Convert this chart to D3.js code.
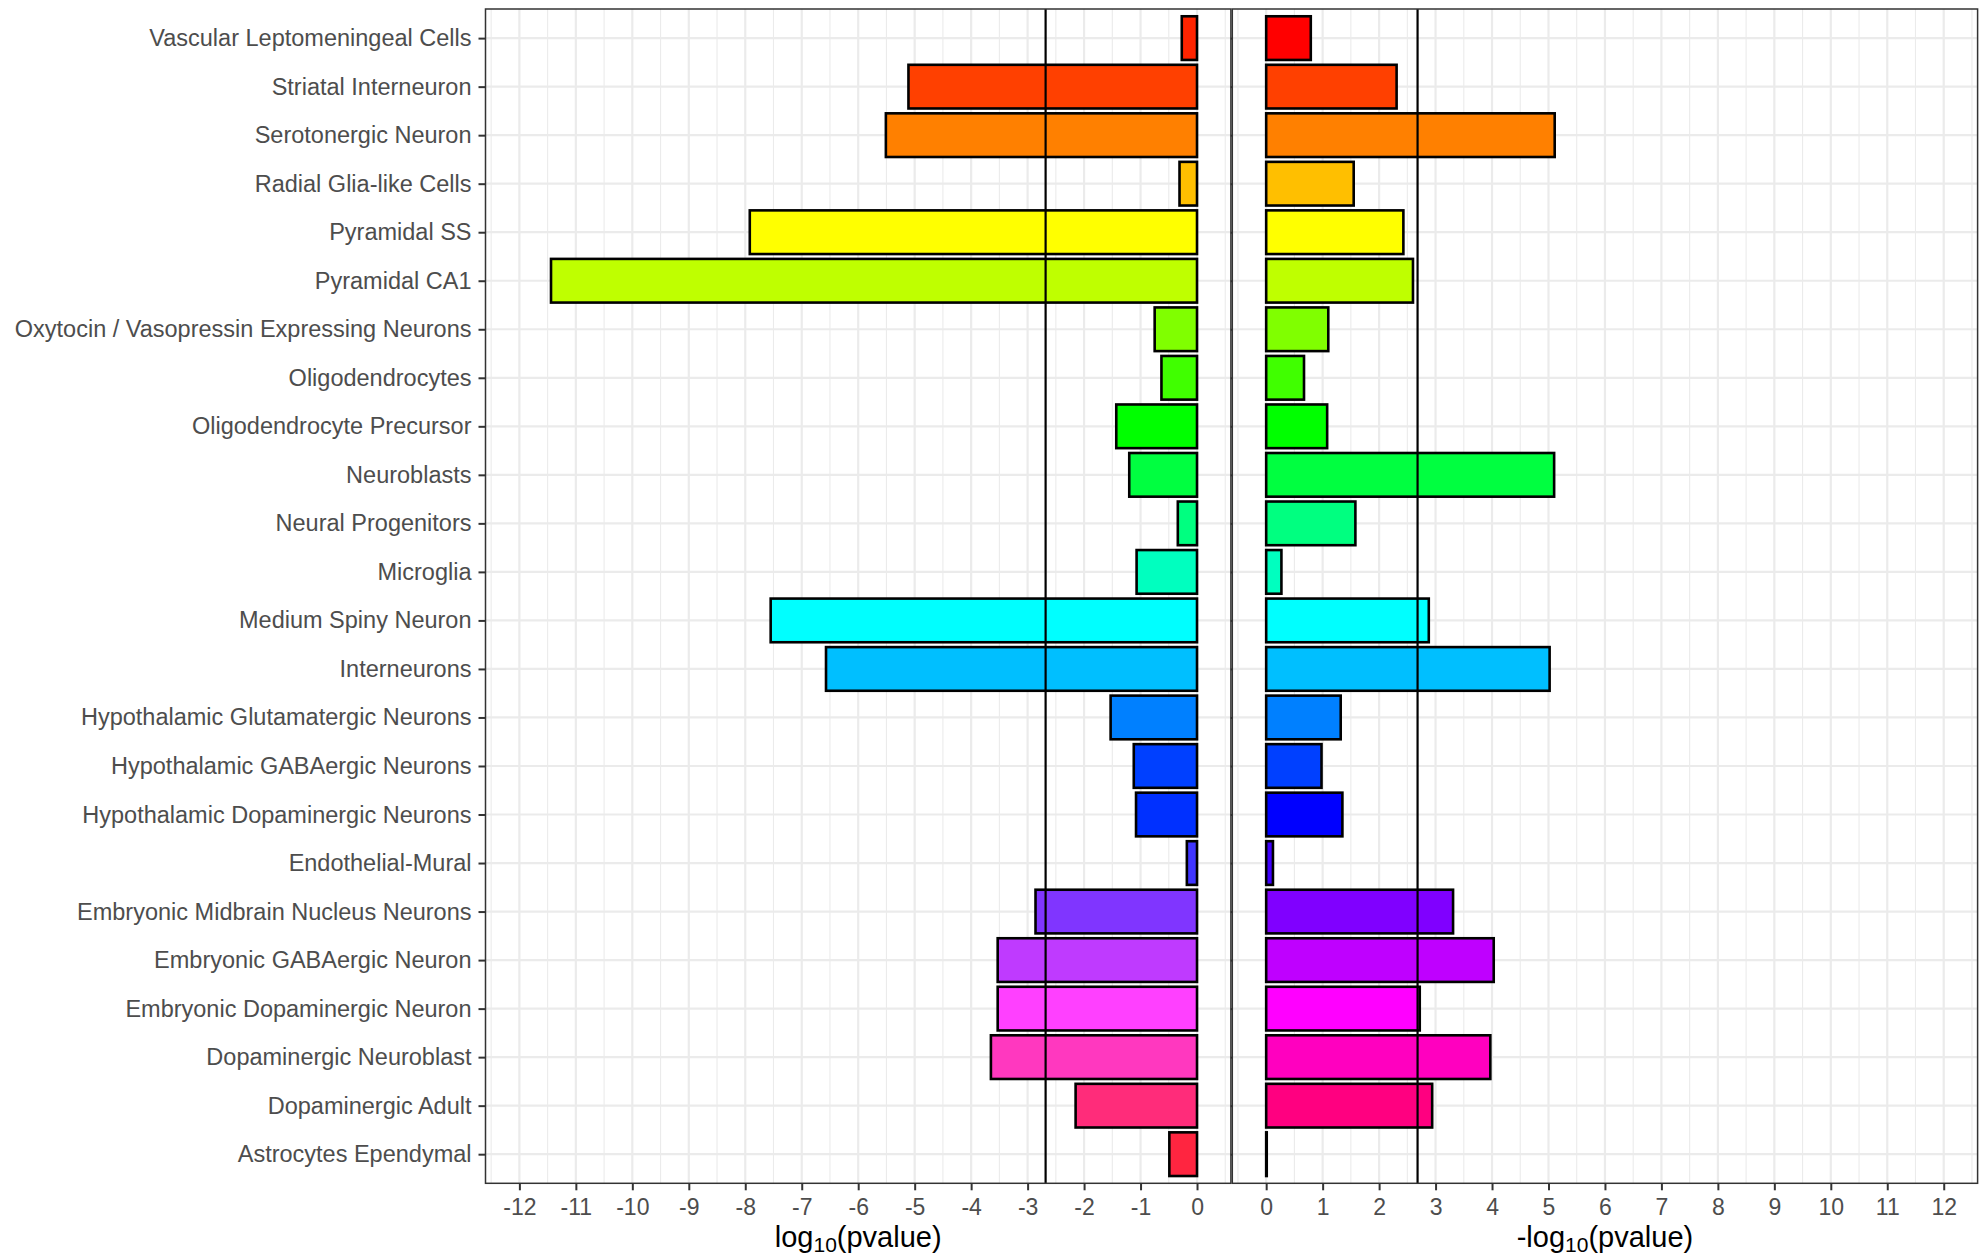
<!DOCTYPE html>
<html>
<head>
<meta charset="utf-8">
<script src="https://cdn.jsdelivr.net/npm/d3@7"></script>
<style>
  html, body { margin: 0; padding: 0; background: #ffffff; }
  svg { display: block; }
  text { font-family: "Liberation Sans", Arial, Helvetica, sans-serif; }
</style>
</head>
<body>
<svg id="chart" width="1979" height="1256"></svg>
<script>
// ---------------- data ----------------
const categories = [
  "Vascular Leptomeningeal Cells",
  "Striatal Interneuron",
  "Serotonergic Neuron",
  "Radial Glia-like Cells",
  "Pyramidal SS",
  "Pyramidal CA1",
  "Oxytocin / Vasopressin Expressing Neurons",
  "Oligodendrocytes",
  "Oligodendrocyte Precursor",
  "Neuroblasts",
  "Neural Progenitors",
  "Microglia",
  "Medium Spiny Neuron",
  "Interneurons",
  "Hypothalamic Glutamatergic Neurons",
  "Hypothalamic GABAergic Neurons",
  "Hypothalamic Dopaminergic Neurons",
  "Endothelial-Mural",
  "Embryonic Midbrain Nucleus Neurons",
  "Embryonic GABAergic Neuron",
  "Embryonic Dopaminergic Neuron",
  "Dopaminergic Neuroblast",
  "Dopaminergic Adult",
  "Astrocytes Ependymal"
];

// log10(pvalue), left panel
const leftValues = [
  -0.27, -5.11, -5.51, -0.31, -7.92, -11.44, -0.75, -0.63, -1.43, -1.20, -0.34, -1.07,
  -7.55, -6.57, -1.53, -1.12, -1.08, -0.18, -2.86, -3.53, -3.53, -3.65, -2.15, -0.49
];

// -log10(pvalue), right panel
const rightValues = [
  0.79, 2.31, 5.11, 1.55, 2.43, 2.60, 1.10, 0.67, 1.08, 5.10, 1.58, 0.27,
  2.88, 5.02, 1.32, 0.98, 1.35, 0.12, 3.31, 4.03, 2.72, 3.97, 2.94, 0.01
];

const leftColors = [
  "#FF2400", "#FF4000", "#FF8000", "#FFBF00", "#FFFF00", "#BFFF00", "#80FF00", "#40FF00",
  "#00FF00", "#00FF40", "#00FF80", "#00FFBF", "#00FFFF", "#00BFFF", "#0080FF", "#0040FF",
  "#0030FF", "#4035FF", "#8035FF", "#BF3AFF", "#FF40FF", "#FF38BF", "#FF2C7A", "#FF2540"
];

const rightColors = [
  "#FF0000", "#FF4000", "#FF8000", "#FFBF00", "#FFFF00", "#BFFF00", "#80FF00", "#40FF00",
  "#00FF00", "#00FF40", "#00FF80", "#00FFBF", "#00FFFF", "#00BFFF", "#0080FF", "#0040FF",
  "#0000FF", "#4000FF", "#8000FF", "#BF00FF", "#FF00FF", "#FF00BF", "#FF0080", "#FF0040"
];

const leftTicks = [-12, -11, -10, -9, -8, -7, -6, -5, -4, -3, -2, -1, 0];
const rightTicks = [0, 1, 2, 3, 4, 5, 6, 7, 8, 9, 10, 11, 12];
const threshold = -Math.log10(0.05 / 24);   // Bonferroni line, ~2.68

// ---------------- layout ----------------
const svg = d3.select("#chart");
const yTop = 9, yBottom = 1183.3;
const leftPanel = { x0: 485.5, x1: 1230.9 };
const rightPanel = { x0: 1232.3, x1: 1977.6 };

const y = d3.scalePoint().domain(categories).range([yTop, yBottom]).padding(0.6);
const bandH = y.step() * 0.9;

const xL = d3.scaleLinear().domain([-12.6, 0.6]).range([leftPanel.x0, leftPanel.x1]);
const xR = d3.scaleLinear().domain([-0.6, 12.6]).range([rightPanel.x0, rightPanel.x1]);

function unitSteps(a, b) {
  const out = [];
  for (let v = a; v <= b + 1e-9; v += 1) out.push(v);
  return out;
}

function drawPanel(x, panel, values, colors, ticks, thr, minorRange, titlePrefix) {
  const g = svg.append("g");
  g.append("rect").attr("x", panel.x0).attr("y", yTop)
    .attr("width", panel.x1 - panel.x0).attr("height", yBottom - yTop).attr("fill", "#ffffff");
  g.selectAll(".minor").data(unitSteps(minorRange[0], minorRange[1])).enter().append("line")
    .attr("x1", d => x(d)).attr("x2", d => x(d)).attr("y1", yTop).attr("y2", yBottom)
    .attr("stroke", "#EBEBEB").attr("stroke-width", 1.1);
  g.selectAll(".majorv").data(ticks).enter().append("line")
    .attr("x1", d => x(d)).attr("x2", d => x(d)).attr("y1", yTop).attr("y2", yBottom)
    .attr("stroke", "#EBEBEB").attr("stroke-width", 2.2);
  g.selectAll(".majorh").data(categories).enter().append("line")
    .attr("x1", panel.x0).attr("x2", panel.x1).attr("y1", d => y(d)).attr("y2", d => y(d))
    .attr("stroke", "#EBEBEB").attr("stroke-width", 2.2);
  g.selectAll(".bar").data(categories).enter().append("rect")
    .attr("x", (d, i) => Math.min(x(0), x(values[i])))
    .attr("width", (d, i) => Math.abs(x(values[i]) - x(0)))
    .attr("y", d => y(d) - bandH / 2)
    .attr("height", bandH)
    .attr("fill", (d, i) => colors[i])
    .attr("stroke", "#000000").attr("stroke-width", 2.6);
  g.append("line").attr("x1", x(thr)).attr("x2", x(thr)).attr("y1", yTop).attr("y2", yBottom)
    .attr("stroke", "#000000").attr("stroke-width", 2.2);
  g.append("rect").attr("x", panel.x0).attr("y", yTop)
    .attr("width", panel.x1 - panel.x0).attr("height", yBottom - yTop)
    .attr("fill", "none").attr("stroke", "#333333").attr("stroke-width", 1.5);
  const ax = d3.axisBottom(x).tickValues(ticks).tickSize(7).tickPadding(8).tickFormat(d3.format("d"));
  const axG = svg.append("g").attr("transform", `translate(0,${yBottom})`).call(ax);
  axG.select(".domain").remove();
  axG.selectAll(".tick line").attr("stroke", "#333333").attr("stroke-width", 2);
  axG.selectAll(".tick text").attr("fill", "#4D4D4D").attr("font-size", 23)
    .text(d => d < 0 ? "-" + Math.abs(d) : d);
  const cx = (panel.x0 + panel.x1) / 2;
  const t = svg.append("text").attr("x", cx).attr("y", 1246.5)
    .attr("text-anchor", "middle").attr("font-size", 29).attr("fill", "#000000");
  t.append("tspan").text(titlePrefix + "log");
  t.append("tspan").attr("font-size", 21).attr("dy", 5.5).text("10");
  t.append("tspan").attr("dy", -5.5).text("(pvalue)");
}

drawPanel(xL, leftPanel, leftValues, leftColors, leftTicks, -threshold, [-12.5, 0.5], "");
drawPanel(xR, rightPanel, rightValues, rightColors, rightTicks, threshold, [-0.5, 12.5], "-");

const ay = d3.axisLeft(y).tickSize(7).tickPadding(7);
const ayG = svg.append("g").attr("transform", `translate(${leftPanel.x0},0)`).call(ay);
ayG.select(".domain").remove();
ayG.selectAll(".tick line").attr("stroke", "#333333").attr("stroke-width", 2);
ayG.selectAll(".tick text").attr("fill", "#4D4D4D").attr("font-size", 23.5);

const ay2 = d3.axisLeft(y).tickSize(1.6).tickFormat("");
const ay2G = svg.append("g").attr("transform", `translate(${rightPanel.x0},0)`).call(ay2);
ay2G.select(".domain").remove();
ay2G.selectAll(".tick line").attr("stroke", "#333333").attr("stroke-width", 2);
</script>
</body>
</html>
